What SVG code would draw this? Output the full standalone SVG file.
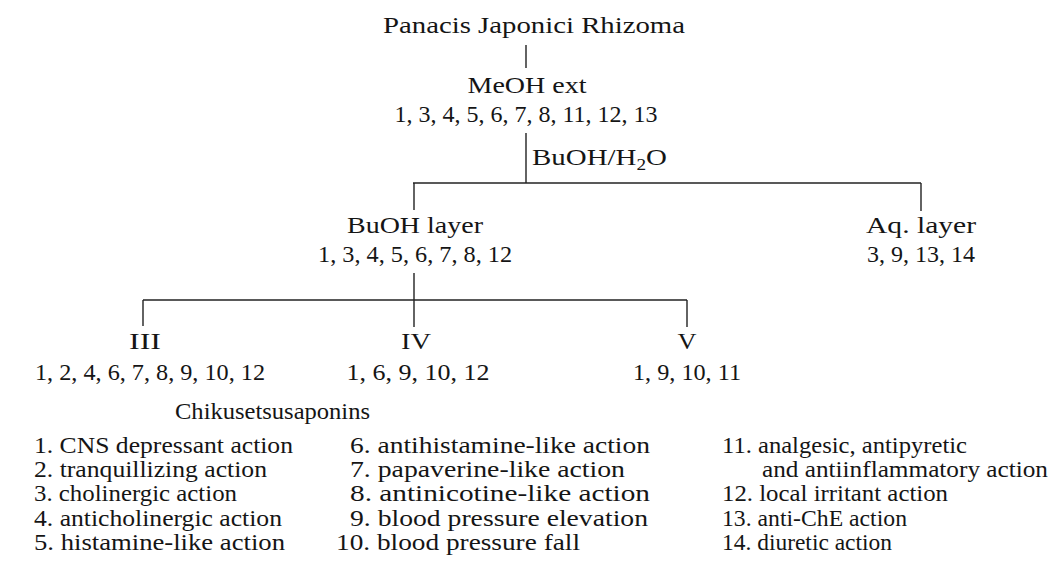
<svg xmlns="http://www.w3.org/2000/svg" width="1052" height="578" viewBox="0 0 1052 578" font-family="'Liberation Serif', 'DejaVu Serif', serif">
<style>
text{font-family:'Liberation Serif','DejaVu Serif',serif;font-size:24px;fill:#151515}
.c{text-anchor:middle}
.l{font-size:23.5px}
line{stroke:#222;stroke-width:1.4}
</style>
<rect width="1052" height="578" fill="#fff"/>
<g id="connectors">
<line x1="526" y1="45" x2="526" y2="68"/>
<line x1="526" y1="133" x2="526" y2="183"/>
<line x1="413" y1="183" x2="921" y2="183"/>
<line x1="414" y1="183" x2="414" y2="210"/>
<line x1="921" y1="183" x2="921" y2="211"/>
<line x1="414" y1="273" x2="414" y2="327"/>
<line x1="143" y1="300" x2="687" y2="300"/>
<line x1="143" y1="300" x2="143" y2="326"/>
<line x1="687" y1="300" x2="687" y2="327"/>
</g>
<g id="title"><text class="c" x="534" y="33" textLength="302" lengthAdjust="spacingAndGlyphs">Panacis Japonici Rhizoma</text></g>
<g id="meoh">
<text class="c" x="527" y="93" textLength="119" lengthAdjust="spacingAndGlyphs">MeOH ext</text>
<text class="c" x="526" y="122" textLength="263" lengthAdjust="spacingAndGlyphs">1, 3, 4, 5, 6, 7, 8, 11, 12, 13</text>
</g>
<g id="partition"><text x="532" y="165" textLength="135" lengthAdjust="spacingAndGlyphs">BuOH/H<tspan dy="5" font-size="16">2</tspan><tspan dy="-5">O</tspan></text></g>
<g id="buoh">
<text class="c" x="415" y="233" textLength="136" lengthAdjust="spacingAndGlyphs">BuOH layer</text>
<text class="c" x="415" y="262" textLength="194" lengthAdjust="spacingAndGlyphs">1, 3, 4, 5, 6, 7, 8, 12</text>
</g>
<g id="aq">
<text class="c" x="921" y="233" textLength="110" lengthAdjust="spacingAndGlyphs">Aq. layer</text>
<text class="c" x="921" y="262" textLength="108" lengthAdjust="spacingAndGlyphs">3, 9, 13, 14</text>
</g>
<g id="iii">
<text class="c" x="145" y="349" textLength="32" lengthAdjust="spacingAndGlyphs">III</text>
<text class="c" x="150" y="380" textLength="230" lengthAdjust="spacingAndGlyphs">1, 2, 4, 6, 7, 8, 9, 10, 12</text>
</g>
<g id="iv">
<text class="c" x="416" y="349" textLength="30" lengthAdjust="spacingAndGlyphs">IV</text>
<text class="c" x="418" y="380" textLength="143" lengthAdjust="spacingAndGlyphs">1, 6, 9, 10, 12</text>
</g>
<g id="v">
<text class="c" x="687" y="349" textLength="19" lengthAdjust="spacingAndGlyphs">V</text>
<text class="c" x="687" y="380" textLength="108" lengthAdjust="spacingAndGlyphs">1, 9, 10, 11</text>
</g>
<g id="legend">
<text x="175" y="419" textLength="195" lengthAdjust="spacingAndGlyphs">Chikusetsusaponins</text>
<text class="l" x="34" y="453" textLength="259" lengthAdjust="spacingAndGlyphs">1. CNS depressant action</text>
<text class="l" x="34" y="477" textLength="233" lengthAdjust="spacingAndGlyphs">2. tranquillizing action</text>
<text class="l" x="34" y="501" textLength="203" lengthAdjust="spacingAndGlyphs">3. cholinergic action</text>
<text class="l" x="34" y="526" textLength="248" lengthAdjust="spacingAndGlyphs">4. anticholinergic action</text>
<text class="l" x="34" y="550" textLength="251" lengthAdjust="spacingAndGlyphs">5. histamine-like action</text>
<text class="l" x="350" y="453" textLength="300" lengthAdjust="spacingAndGlyphs">6. antihistamine-like action</text>
<text class="l" x="350" y="477" textLength="275" lengthAdjust="spacingAndGlyphs">7. papaverine-like action</text>
<text class="l" x="350" y="501" textLength="300" lengthAdjust="spacingAndGlyphs">8. antinicotine-like action</text>
<text class="l" x="350" y="526" textLength="298" lengthAdjust="spacingAndGlyphs">9. blood pressure elevation</text>
<text class="l" x="336" y="550" textLength="244" lengthAdjust="spacingAndGlyphs">10. blood pressure fall</text>
<text class="l" x="722" y="453" textLength="245" lengthAdjust="spacingAndGlyphs">11. analgesic, antipyretic</text>
<text class="l" x="762" y="477" textLength="286" lengthAdjust="spacingAndGlyphs">and antiinflammatory action</text>
<text class="l" x="722" y="501" textLength="226" lengthAdjust="spacingAndGlyphs">12. local irritant action</text>
<text class="l" x="722" y="526" textLength="185" lengthAdjust="spacingAndGlyphs">13. anti-ChE action</text>
<text class="l" x="722" y="550" textLength="170" lengthAdjust="spacingAndGlyphs">14. diuretic action</text>
</g>
</svg>
